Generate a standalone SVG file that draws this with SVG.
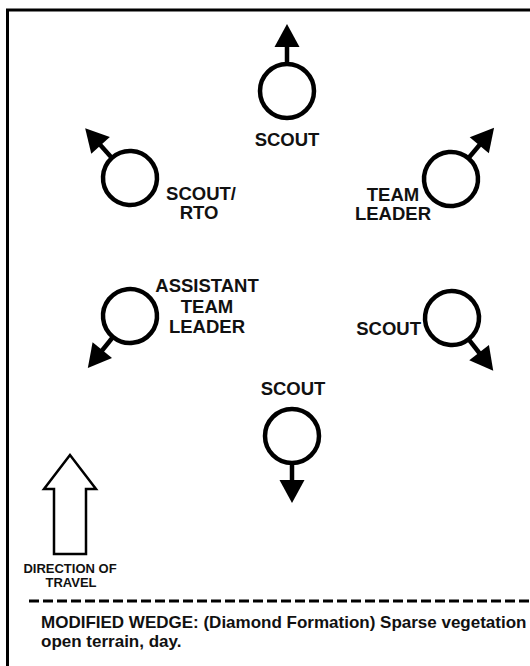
<svg xmlns="http://www.w3.org/2000/svg" xmlns:xlink="http://www.w3.org/1999/xlink" width="530" height="666" viewBox="0 0 530 666">
<style>
.lbl{font-family:"Liberation Sans",Arial,sans-serif;font-weight:bold;font-size:18.5px;fill:#111;}
.sm{font-family:"Liberation Sans",Arial,sans-serif;font-weight:bold;font-size:13px;fill:#111;}
.cap{font-family:"Liberation Sans",Arial,sans-serif;font-weight:bold;font-size:17px;fill:#111;}
</style>
<defs>
<g id="sym">
<circle r="27" fill="none" stroke="#000" stroke-width="4.5"/>
<line x1="0" y1="-28" x2="0" y2="-46" stroke="#000" stroke-width="4.5"/>
<polygon points="0,-67 -12.5,-44 12.5,-44" fill="#000"/>
</g>
</defs>
<rect width="530" height="666" fill="#fff"/>
<path d="M7.5,666 V10 H530" fill="none" stroke="#000" stroke-width="3"/>
<g id="scout-top">
<use xlink:href="#sym" transform="translate(287,91)"/>
<text class="lbl" x="287" y="146" text-anchor="middle">SCOUT</text>
</g>
<g id="scout-rto">
<use xlink:href="#sym" transform="translate(130,178) rotate(-42)"/>
<text class="lbl" x="201" y="200" text-anchor="middle">SCOUT/</text>
<text class="lbl" x="199" y="219" text-anchor="middle">RTO</text>
</g>
<g id="team-leader">
<use xlink:href="#sym" transform="translate(451,179) rotate(40)"/>
<text class="lbl" x="393" y="201" text-anchor="middle">TEAM</text>
<text class="lbl" x="393" y="220" text-anchor="middle">LEADER</text>
</g>
<g id="assistant-team-leader">
<use xlink:href="#sym" transform="translate(130,316) rotate(-141)"/>
<text class="lbl" x="207" y="292" text-anchor="middle">ASSISTANT</text>
<text class="lbl" x="207" y="313" text-anchor="middle">TEAM</text>
<text class="lbl" x="207" y="333" text-anchor="middle">LEADER</text>
</g>
<g id="scout-right">
<use xlink:href="#sym" transform="translate(452,318) rotate(142)"/>
<text class="lbl" x="421" y="335" text-anchor="end">SCOUT</text>
</g>
<g id="scout-bottom">
<use xlink:href="#sym" transform="translate(292,436) rotate(180)"/>
<text class="lbl" x="293" y="395" text-anchor="middle">SCOUT</text>
</g>
<g id="direction">
<polygon points="70,455 44,489 54,489 54,554 86,554 86,489 96,489" fill="#fff" stroke="#000" stroke-width="2.5" stroke-linejoin="miter"/>
<text class="sm" x="70" y="573" text-anchor="middle">DIRECTION OF</text>
<text class="sm" x="71" y="587" text-anchor="middle">TRAVEL</text>
</g>
<g id="connectors">
<line x1="29" y1="601" x2="530" y2="601" stroke="#000" stroke-width="3" stroke-dasharray="10,4"/>
</g>
<text class="cap" x="41" y="628">MODIFIED WEDGE: (Diamond Formation) Sparse vegetation</text>
<text class="cap" x="41" y="647">open terrain, day.</text>
</svg>
